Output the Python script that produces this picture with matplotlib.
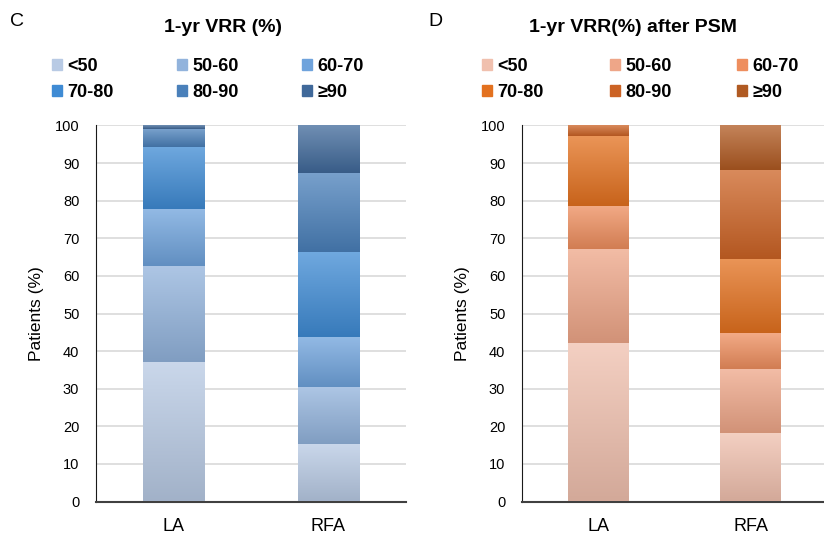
import numpy as np
import matplotlib
matplotlib.use("Agg")
import matplotlib.pyplot as plt
from matplotlib.colors import to_rgb
from matplotlib.patches import Patch

plt.rcParams['font.family'] = ['Liberation Sans', 'DejaVu Sans']

GROUPS = ["LA", "RFA"]
BINS = ["<50", "50-60", "60-70", "70-80", "80-90", "≥90"]

# percent of patients per VRR bin (LA, RFA)
VRR_LA = [37.0, 25.6, 15.3, 16.5, 4.7, 0.9]
VRR_RFA = [15.2, 15.2, 13.4, 22.5, 21.0, 12.7]
PSM_LA = [42.1, 25.1, 11.5, 18.5, 2.8, 0.0]
PSM_RFA = [18.3, 17.0, 9.4, 19.8, 23.6, 11.9]

BLUES = ["#b8cae4", "#92b3dc", "#6fa3dc", "#3f8bd4", "#4a80ba", "#40699a"]
ORANGES = ["#f0c0ae", "#eea688", "#ee8e5e", "#e3711f", "#cc6325", "#b05a22"]


def shade(c, f):
    r = np.array(to_rgb(c))
    if f > 0:
        return r + (1 - r) * f
    return r * (1 + f)


def gradient_bars(ax, la, rfa, colors):
    bottoms = np.zeros(2)
    handles = []
    for i, name in enumerate(BINS):
        vals = np.array([la[i], rfa[i]])
        bars = ax.bar([0, 1], vals, 0.4, bottom=bottoms, color=colors[i],
                      zorder=2, label=name)
        for b in bars:
            if b.get_height() <= 0:
                continue
            x0, y0 = b.get_x(), b.get_y()
            w, h = b.get_width(), b.get_height()
            top = shade(colors[i], 0.25)
            bot = shade(colors[i], -0.12)
            t = np.linspace(0, 1, 64)[:, None]
            img = (bot[None, :] * (1 - t) + top[None, :] * t)[:, None, :]
            im = ax.imshow(img, extent=[x0, x0 + w, y0, y0 + h], origin='lower',
                           aspect='auto', zorder=3, interpolation='bilinear')
            im.set_clip_path(b)
        handles.append(Patch(color=colors[i], label=name))
        bottoms += vals
    return handles


def style(ax):
    ax.set_xlim(-0.5, 1.5)
    ax.set_ylim(0, 100)
    ax.set_yticks(range(0, 101, 10))
    ax.set_xticks([0, 1])
    ax.set_xticklabels(GROUPS, fontsize=13)
    ax.tick_params(axis='y', labelsize=10.5, length=0, pad=12)
    ax.tick_params(axis='x', length=0, pad=12)
    ax.yaxis.grid(True, color='#d9d9d9', linewidth=1.2, zorder=0)
    ax.set_axisbelow(True)
    for s in ['top', 'right']:
        ax.spines[s].set_visible(False)
    ax.spines['left'].set_color('#1a1a1a')
    ax.spines['bottom'].set_color('#404040')
    ax.spines['bottom'].set_linewidth(1.5)
    ax.set_ylabel("Patients (%)", fontsize=12.5, labelpad=8)


fig = plt.figure(figsize=(8.24, 5.36), dpi=100)
ax1 = fig.add_axes([96 / 824, 1 - 501.5 / 536, 310 / 824, 376 / 536])
ax2 = fig.add_axes([522 / 824, 1 - 501.5 / 536, 305 / 824, 376 / 536])

h1 = gradient_bars(ax1, VRR_LA, VRR_RFA, BLUES)
h2 = gradient_bars(ax2, PSM_LA, PSM_RFA, ORANGES)
style(ax1)
style(ax2)

order = [0, 3, 1, 4, 2, 5]
for ax, h, x, cs in [(ax1, h1, 52 / 824, 3.5), (ax2, h2, 482 / 824, 3.65)]:
    ax.legend([h[k] for k in order], [BINS[k] for k in order], ncol=3,
              loc='upper left', bbox_to_anchor=(x, 1 - 58 / 536),
              bbox_transform=fig.transFigure, frameon=False,
              prop={'size': 13, 'weight': 'bold'},
              handlelength=0.55, handleheight=0.55, handletextpad=0.3,
              columnspacing=cs, labelspacing=0.5, borderpad=0, borderaxespad=0)

fig.text(10 / 824, 1 - 22 / 536, "C", fontsize=14, va='center')
fig.text(428 / 824, 1 - 22 / 536, "D", fontsize=14, va='center')
fig.text(223 / 824, 1 - 28 / 536, "1-yr VRR (%)", fontsize=14, weight='bold',
         ha='center', va='center')
fig.text(633 / 824, 1 - 28 / 536, "1-yr VRR(%) after PSM", fontsize=14,
         weight='bold', ha='center', va='center')

fig.savefig("out.png", dpi=100)
